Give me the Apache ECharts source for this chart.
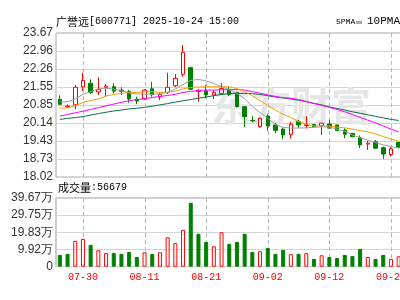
<!DOCTYPE html>
<html>
<head>
<meta charset="utf-8">
<script src="https://cdn.jsdelivr.net/npm/echarts@6/dist/echarts.min.js"></script>
<style>html,body{margin:0;padding:0;background:#fff}#c{width:400px;height:300px}</style>
</head>
<body>
<div id="c"></div>
<script>
const stockName = '广誉远';
const stockCode = '600771';
const stamp = '2025-10-24 15:00';
const volLabel = '成交量';
const lastVol = '56679';
const maNames = ['5PMA', '10PMA'];
const watermark = '东方财富';

const dates = ['07-25','07-28','07-29','07-30','07-31','08-01','08-04','08-05','08-06','08-07','08-08',
  '08-11','08-12','08-13','08-14','08-15','08-18','08-19','08-20','08-21','08-22','08-25','08-26','08-27',
  '08-28','08-29','09-01','09-02','09-03','09-04','09-05','09-08','09-09','09-10','09-11','09-12','09-15',
  '09-16','09-17','09-18','09-19','09-22','09-23','09-24','09-25'];
const labelDates = ['07-30','08-11','08-21','09-02','09-12','09-24'];

const opens  = [21.07,20.78,20.85,21.56,21.70,21.36,21.54,21.56,21.43,21.37,21.07,21.08,21.48,21.16,21.33,21.60,22.05,22.31,21.37,21.39,21.23,21.30,21.45,21.34,20.78,20.24,20.00,20.41,20.06,19.90,19.69,20.19,20.04,20.08,20.03,20.10,20.06,19.86,19.73,19.57,19.31,19.40,19.17,18.90,19.38];
const closes = [20.87,20.80,21.54,21.81,21.33,21.46,21.59,21.39,21.38,21.08,21.00,21.43,21.25,21.26,21.54,21.89,22.91,21.46,21.42,21.24,21.33,21.49,21.26,20.78,20.39,20.22,20.32,20.02,19.85,19.67,20.09,20.06,20.07,19.99,20.13,19.94,19.84,19.70,19.60,19.28,19.35,19.15,18.92,19.12,19.19];
const lows   = [20.85,20.74,20.67,21.40,21.28,21.24,21.17,21.30,21.24,20.93,20.88,21.04,21.17,21.04,21.28,21.54,21.96,21.43,20.97,21.11,21.08,21.24,21.20,20.75,19.98,20.17,19.95,19.83,19.74,19.50,19.53,19.94,19.92,19.98,19.67,19.92,19.83,19.54,19.58,19.16,19.08,19.12,18.73,18.82,19.15];
const highs  = [21.23,20.87,21.63,22.11,21.85,21.93,21.67,21.70,21.54,21.43,21.17,21.47,21.76,21.30,22.11,22.06,23.20,22.33,21.46,21.63,21.43,21.70,21.56,21.36,20.78,20.41,20.35,20.49,20.14,19.96,20.18,20.26,20.41,20.10,20.14,20.26,20.07,19.93,19.75,19.65,19.44,19.47,19.21,19.19,19.40];

const volumes = [68000,74000,149000,161000,126000,95000,78000,79000,74000,85000,56000,83000,74000,83000,170000,136000,213000,369000,190000,143000,118000,199000,132000,143000,190000,85000,89000,108000,74000,97000,72000,74000,78000,45000,66000,56000,50000,68000,62000,103000,56000,45000,68000,45000,60000];

const ma5  = [20.97,20.97,21.08,21.26,21.37,21.48,21.50,21.47,21.41,21.32,21.28,21.27,21.27,21.28,21.34,21.47,21.65,21.81,21.85,21.79,21.69,21.56,21.45,21.30,21.09,20.79,20.55,20.32,20.08,19.97,19.94,19.94,19.95,19.97,19.99,19.98,19.90,19.81,19.67,19.56,19.47,19.37,19.28,19.21,19.16];
const ma10 = [20.72,20.73,20.81,20.95,21.02,21.08,21.20,21.26,21.30,21.33,21.34,21.36,21.37,21.34,21.34,21.39,21.48,21.53,21.55,21.56,21.56,21.56,21.56,21.49,21.37,21.20,21.02,20.83,20.65,20.48,20.35,20.20,20.10,20.02,20.02,20.02,19.98,19.95,19.90,19.84,19.79,19.71,19.61,19.51,19.43];
const ma20 = [20.41,20.47,20.54,20.60,20.67,20.74,20.81,20.88,20.95,21.01,21.06,21.09,21.14,21.18,21.22,21.26,21.34,21.38,21.41,21.43,21.43,21.44,21.45,21.45,21.43,21.37,21.31,21.24,21.18,21.13,21.11,21.06,20.98,20.90,20.83,20.75,20.67,20.58,20.47,20.36,20.25,20.14,20.02,19.90,19.79];
const ma30 = [20.28,20.32,20.35,20.39,20.45,20.51,20.56,20.61,20.65,20.69,20.72,20.75,20.80,20.85,20.90,20.96,21.01,21.06,21.11,21.16,21.21,21.26,21.29,21.30,21.30,21.29,21.26,21.21,21.16,21.12,21.08,21.03,20.98,20.91,20.85,20.77,20.71,20.65,20.58,20.52,20.46,20.40,20.34,20.28,20.24];

const priceTicks = ['18.02','18.73','19.43','20.14','20.85','21.55','22.26','22.96','23.67'];
const volTicks = ['0','9.92万','19.83万','29.75万','39.67万'];
const priceMin = 18.02, priceMax = 23.67;
const volMax = 396700;

const RED = '#ff0000', GREEN = '#008000';
const GRID_DASH = '#b8b8b8';
const chart = echarts.init(document.getElementById('c'), null, {renderer: 'canvas'});

const candleData = dates.map((d, i) => [opens[i], closes[i], lows[i], highs[i]]);
const volData = volumes.map((v, i) => {
  const up = i === 0 ? closes[i] > opens[i] : closes[i] >= closes[i - 1];
  return {value: v, itemStyle: up
    ? {color: '#ffffff', borderColor: RED, borderWidth: 1}
    : {color: GREEN, borderColor: GREEN, borderWidth: 1}};
});
const labelFont = 'Liberation Sans';

const baseGraphic = [
  {id: 'wm', type: 'text', left: 211, top: 86, z: 1, silent: true,
   style: {text: watermark, fill: '#e6e6e6', fontSize: 40, fontWeight: 'bold', fontFamily: 'Noto Sans CJK SC'}},
  {id: 'title', type: 'text', left: 56, top: 16, z: 10,
   style: {text: '{a|' + stockName + '}{b|[' + stockCode + '] ' + stamp + '}',
     rich: {a: {fontSize: 11, fontFamily: 'Noto Sans CJK SC', fill: '#000'},
            b: {fontSize: 10, fontFamily: 'Liberation Mono', fill: '#000'}}}},
  {id: 'ma5t', type: 'text', left: 336, top: 18, z: 10,
   style: {text: maNames[0], fontSize: 8, fontFamily: 'Liberation Mono', fill: '#000'}},
  {id: 'ma5r', type: 'rect', left: 356, top: 21, z: 10, shape: {width: 6, height: 3}, style: {fill: '#a8a8a8'}},
  {id: 'ma10t', type: 'text', left: 367, top: 16, z: 10,
   style: {text: maNames[1], fontSize: 11, fontFamily: 'Liberation Mono', fill: '#000'}},
  {id: 'volt', type: 'text', left: 58, top: 182, z: 10,
   style: {text: '{a|' + volLabel + '}{b|:' + lastVol + '}',
     rich: {a: {fontSize: 11, fontFamily: 'Noto Sans CJK SC', fill: '#000'},
            b: {fontSize: 10, fontFamily: 'Liberation Mono', fill: '#000'}}}}
];

const option = {
  animation: false,
  backgroundColor: '#ffffff',
  grid: [
    {left: 56, top: 33, width: 346.5, height: 144, show: true, borderColor: '#a8a8a8', borderWidth: 1, outerBoundsMode: 'none', containLabel: false},
    {left: 56, top: 198, width: 346.5, height: 68.7, show: true, borderColor: '#999999', borderWidth: 1, outerBoundsMode: 'none', containLabel: false}
  ],
  xAxis: [
    {type: 'category', gridIndex: 0, data: dates, boundaryGap: true,
     axisLine: {show: false}, axisTick: {show: false}, axisLabel: {show: false}, splitLine: {show: false}},
    {type: 'category', gridIndex: 1, data: dates, boundaryGap: true,
     axisLine: {show: false}, axisTick: {show: false}, splitLine: {show: false},
     axisLabel: {interval: (i, v) => labelDates.indexOf(v) >= 0, color: RED, fontFamily: 'Liberation Mono', fontSize: 10, margin: 6, hideOverlap: false}}
  ],
  yAxis: [
    {type: 'value', gridIndex: 0, min: 0, max: priceTicks.length - 1, interval: 1,
     axisLine: {show: false}, axisTick: {show: false},
     axisLabel: {formatter: v => priceTicks[v], color: '#333', fontFamily: labelFont, fontSize: 12, margin: 3},
     splitLine: {lineStyle: {color: '#d4d4d4', width: 1}}},
    {type: 'value', gridIndex: 0, min: priceMin, max: priceMax, show: false, splitLine: {show: false}},
    {type: 'value', gridIndex: 1, min: 0, max: volTicks.length - 1, interval: 1,
     axisLine: {show: false}, axisTick: {show: false},
     axisLabel: {formatter: v => volTicks[v], color: '#333', fontFamily: labelFont, fontSize: 12, margin: 3},
     splitLine: {lineStyle: {color: '#d4d4d4', width: 1}}},
    {type: 'value', gridIndex: 1, min: 0, max: volMax, show: false, splitLine: {show: false}}
  ],
  graphic: baseGraphic,
  series: [
    {type: 'candlestick', name: 'k', xAxisIndex: 0, yAxisIndex: 1, data: candleData, barWidth: 4, z: 3,
     itemStyle: {color: '#ffffff', color0: GREEN, borderColor: RED, borderColor0: GREEN, borderWidth: 1}},
    {type: 'line', name: 'ma30', xAxisIndex: 0, yAxisIndex: 1, data: ma30, showSymbol: false, z: 4, lineStyle: {color: '#0a7040', width: 1}},
    {type: 'line', name: 'ma20', xAxisIndex: 0, yAxisIndex: 1, data: ma20, showSymbol: false, z: 4, lineStyle: {color: '#ff00ff', width: 1}},
    {type: 'line', name: 'ma10', xAxisIndex: 0, yAxisIndex: 1, data: ma10, showSymbol: false, z: 4, lineStyle: {color: '#f5a300', width: 1}},
    {type: 'line', name: 'ma5', xAxisIndex: 0, yAxisIndex: 1, data: ma5, showSymbol: false, z: 4, lineStyle: {color: '#a0a0a0', width: 1}},
    {type: 'bar', name: 'vol', xAxisIndex: 1, yAxisIndex: 3, data: volData, barWidth: 4, z: 3}
  ]
};
chart.setOption(option);

// Vertical dashed gridlines at the labelled dates, placed through the library's own axis scales.
const lines = [];
const panels = [
  {x: 0, y: 1, lo: priceMin, hi: priceMax},
  {x: 1, y: 3, lo: 0, hi: volMax}
];
panels.forEach((pn, k) => {
  const yTop = chart.convertToPixel({yAxisIndex: pn.y}, pn.hi);
  const yBot = chart.convertToPixel({yAxisIndex: pn.y}, pn.lo);
  labelDates.forEach((d, j) => {
    const px = chart.convertToPixel({xAxisIndex: pn.x}, d);
    const x = Math.round(px) + 0.5;
    lines.push({id: 'vg' + k + '_' + j, type: 'line', z: 2, silent: true,
      shape: {x1: x, y1: Math.round(yTop), x2: x, y2: Math.round(yBot)},
      style: {stroke: GRID_DASH, lineWidth: 1, lineDash: [4, 3]}});
  });
});
chart.setOption({graphic: baseGraphic.concat(lines)});
</script>
</body>
</html>
